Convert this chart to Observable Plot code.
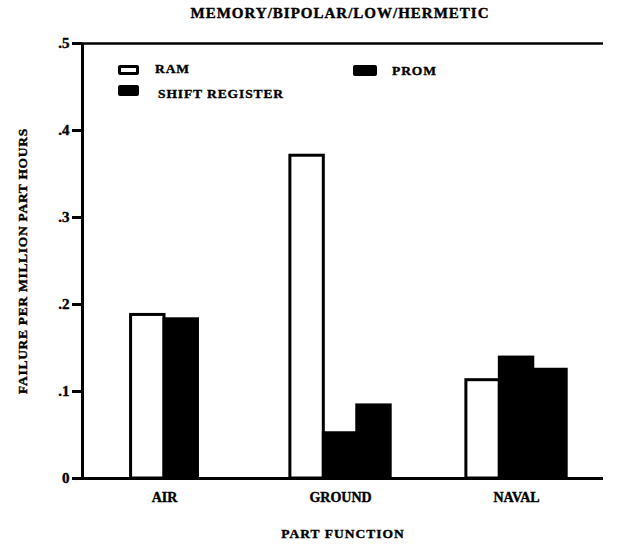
<!DOCTYPE html>
<html>
<head>
<meta charset="utf-8">
<script src="https://cdn.jsdelivr.net/npm/d3@7"></script>
<script src="https://cdn.jsdelivr.net/npm/@observablehq/plot@0.6"></script>
<style>
  body { margin: 0; background: #fff; }
  #wrap { position: relative; width: 619px; height: 544px; font-family: "Liberation Serif", "DejaVu Serif", serif; font-weight: bold; color: #000; }
  #title { position: absolute; left: 0; width: 680px; top: 5px; text-align: center; font-size: 15px; letter-spacing: 1px; -webkit-text-stroke: 0.4px black; }
  .lg { position: absolute; font-size: 13.5px; letter-spacing: 0.9px; line-height: 14px; -webkit-text-stroke: 0.4px black; }
  .sw { position: absolute; box-sizing: border-box; }
  #chart { position: absolute; left: 0; top: 0; }
</style>
</head>
<body>
<div id="wrap">
  <div id="chart"></div>
  <div id="title">MEMORY/BIPOLAR/LOW/HERMETIC</div>
  <div id="legend"></div>
</div>
<script>
// ---- data ----
const groups = ["AIR", "GROUND", "NAVAL"];
const series = ["RAM", "SHIFT REGISTER", "PROM"];
const ram = [0.188, 0.371, 0.113];
const shiftRegister = [0.183, 0.052, 0.139];
const prom = [null, 0.084, 0.125];
const yTicks = [0, 0.1, 0.2, 0.3, 0.4, 0.5];

const valuesBySeries = { "RAM": ram, "SHIFT REGISTER": shiftRegister, "PROM": prom };
const fills = { "RAM": "white", "SHIFT REGISTER": "black", "PROM": "black" };

// build rows: bars present in each group are centred on the group position
const barW = 0.19;
const rows = [];
groups.forEach((g, gi) => {
  const present = series.filter(s => valuesBySeries[s][gi] != null);
  const n = present.length;
  present.forEach((s, j) => {
    const off = j - (n - 1) / 2;
    const x1 = gi + (off - 0.5) * barW;
    rows.push({ group: g, series: s, value: valuesBySeries[s][gi], x1, x2: x1 + barW });
  });
});

const chart = Plot.plot({
  width: 619,
  height: 544,
  marginTop: 43,
  marginBottom: 66,
  marginLeft: 82,
  marginRight: 16,
  style: { fontFamily: "'Liberation Serif', 'DejaVu Serif', serif", fontWeight: "bold", fontSize: "13px", color: "black", background: "white" },
  x: { type: "linear", domain: [-0.466, 2.494] },
  y: { domain: [0, 0.5] },
  marks: [
    Plot.axisX({ ticks: [0, 1, 2], tickFormat: i => groups[i], tickSize: 0, tickPadding: 14, fontSize: 14,
      label: "PART FUNCTION", labelAnchor: "center", labelOffset: 59, labelArrow: "none" }),
    Plot.axisY({ ticks: yTicks, tickFormat: d => d === 0 ? "0" : "." + Math.round(d * 10), tickSize: 10, tickPadding: 3,
      strokeWidth: 3, fontSize: 15,
      label: "FAILURE PER MILLION PART HOURS", labelAnchor: "center", labelOffset: 65, labelArrow: "none" }),
    Plot.rectY(rows, {
      x1: "x1", x2: "x2", y1: 0, y2: "value",
      fill: d => fills[d.series], stroke: "black", strokeWidth: 3
    }),
    Plot.ruleX([-0.466], { stroke: "black", strokeWidth: 3 }),
    Plot.ruleY([0], { stroke: "black", strokeWidth: 3 }),
    Plot.ruleY([0.5], { stroke: "black", strokeWidth: 2.5 })
  ]
});
chart.querySelectorAll("[aria-label='y-axis label'] text").forEach(t => {
  t.setAttribute("font-size", "13.5"); t.style.letterSpacing = "0.7px";
});
chart.querySelectorAll("[aria-label='x-axis label'] text").forEach(t => {
  t.setAttribute("font-size", "13.5"); t.style.letterSpacing = "1px";
});
chart.querySelectorAll("[aria-label$='tick label'] text, [aria-label$='axis label'] text").forEach(t => {
  t.setAttribute("stroke", "black"); t.setAttribute("stroke-width", "0.4");
});
document.getElementById("chart").appendChild(chart);

// legend (HTML, overlaid inside the frame)
const legendItems = [
  { s: "RAM", box: [118, 65, 21, 10], text: [155, 62] },
  { s: "SHIFT REGISTER", box: [118, 85, 21, 11], text: [158, 87] },
  { s: "PROM", box: [353, 65, 24, 11], text: [392, 64] }
];
const lg = document.getElementById("legend");
legendItems.forEach(it => {
  const b = document.createElement("div");
  b.className = "sw";
  Object.assign(b.style, { left: it.box[0] + "px", top: it.box[1] + "px", width: it.box[2] + "px", height: it.box[3] + "px",
    background: fills[it.s], border: "3px solid black", borderRadius: "2px" });
  lg.appendChild(b);
  const t = document.createElement("div");
  t.className = "lg";
  t.textContent = it.s;
  Object.assign(t.style, { left: it.text[0] + "px", top: it.text[1] + "px" });
  lg.appendChild(t);
});
</script>
</body>
</html>
